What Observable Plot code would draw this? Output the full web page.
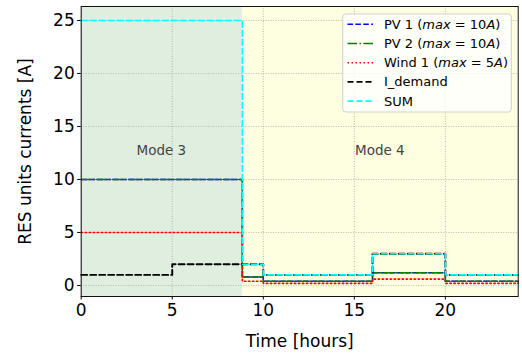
<!DOCTYPE html>
<html>
<head>
<meta charset="utf-8">
<script src="https://cdn.jsdelivr.net/npm/d3@7"></script>
<script src="https://cdn.jsdelivr.net/npm/@observablehq/plot@0.6"></script>
<style>
  html, body { margin: 0; padding: 0; background: #fff; }
  #chart { width: 522px; height: 354px; }
</style>
</head>
<body>
<div id="chart"></div>
<script>
// ---- data ----
const times   = [0, 5, 8.85, 10, 16, 20, 24];
const pv1     = [10, 10, 0.8, 0.4, 1.2, 0.4, 0.4];
const pv2     = [10, 10, 0.8, 0.4, 1.2, 0.4, 0.4];
const wind1   = [5, 5, 0.4, 0.2, 0.6, 0.2, 0.2];
const demand  = [1, 2, 2, 1, 3, 1, 1];
const sumI    = [25, 25, 2, 1, 3, 1, 1];

const modeNames  = ["Mode 3", "Mode 4"];
const modeStart  = [0, 8.85];
const modeEnd    = [8.85, 24];
const modeColors = ["#e0eee0", "#fefee0"];
const modeLabelX = [4.4, 16.4];
const modeLabelY = [12.7, 12.7];

const xTicks = [0, 5, 10, 15, 20];
const yTicks = [0, 5, 10, 15, 20, 25];

const seriesNames = ["PV 1", "PV 2", "Wind 1", "I_demand", "SUM"];
const seriesMax   = ["10", "10", "5", null, null];
const seriesVals  = [pv1, pv2, wind1, demand, sumI];
const seriesColor = ["#0000ff", "#008000", "#ff0000", "#000000", "#00ffff"];
const seriesDash  = ["5.5,2.4", "9.6,2.4,1.5,2.4", "1.5,2.5", "6,3", "6,3"];
const seriesWidth = [1.6, 1.6, 1.6, 1.9, 1.6];

// ---- build tables ----
const modes = modeNames.map((m, i) => ({mode: m, x1: modeStart[i], x2: modeEnd[i], fill: modeColors[i], lx: modeLabelX[i], ly: modeLabelY[i]}));

const lineMarks = seriesNames.map((name, s) => {
  const rows = times.map((t, i) => ({t, v: seriesVals[s][i]}));
  return Plot.line(rows, {x: "t", y: "v", curve: "step-after",
    stroke: seriesColor[s], strokeWidth: seriesWidth[s], strokeDasharray: seriesDash[s]});
});

const plot = Plot.plot({
  width: 522,
  height: 354,
  marginLeft: 80.7,
  marginRight: 4.3,
  marginTop: 6,
  marginBottom: 58,
  style: {fontFamily: "DejaVu Sans", fontSize: "17px", background: "#fff", color: "#000"},
  x: {domain: [0, 24]},
  y: {domain: [-1.04, 26.32]},
  marks: [
    Plot.rect(modes, {x1: "x1", x2: "x2", fill: "fill"}),
    Plot.gridX(xTicks, {stroke: "#aaa", strokeOpacity: 1, strokeDasharray: "1,1.5", strokeWidth: 0.8}),
    Plot.gridY(yTicks, {stroke: "#aaa", strokeOpacity: 1, strokeDasharray: "1,1.5", strokeWidth: 0.8}),
    Plot.text(modes, {x: "lx", y: "ly", text: "mode", fill: "#444", fontSize: 13.5}),
    ...lineMarks,
    Plot.axisX({ticks: xTicks, tickSize: 3.5, tickPadding: 3.5, label: null, fontSize: 17}),
    Plot.axisY({ticks: yTicks, tickSize: 3.5, tickPadding: 3, label: null, fontSize: 17}),
    Plot.text(["Time [hours]"], {frameAnchor: "bottom", dy: 50, fontSize: 17, textAnchor: "middle"}),
    Plot.text(["RES units currents [A]"], {frameAnchor: "left", dx: -56, rotate: -90, fontSize: 17, textAnchor: "middle"}),
    Plot.frame({stroke: "#111", strokeWidth: 1})
  ]
});

document.getElementById("chart").appendChild(plot);

// ---- legend ----
const svg = d3.select(plot);
const lg = svg.append("g").attr("font-family", "DejaVu Sans").attr("font-size", 13).attr("text-anchor", "start");
lg.append("rect").attr("x", 342.7).attr("y", 14).attr("width", 168.6).attr("height", 98)
  .attr("rx", 3).attr("fill", "#fff").attr("fill-opacity", 0.8).attr("stroke", "#d0d0d0");
seriesNames.forEach((name, i) => {
  const cy = 24.3 + 19.2 * i;
  lg.append("line").attr("x1", 347.5).attr("x2", 373).attr("y1", cy).attr("y2", cy)
    .attr("stroke", seriesColor[i]).attr("stroke-width", seriesWidth[i]).attr("stroke-dasharray", seriesDash[i]);
  const t = lg.append("text").attr("x", 384).attr("y", cy).attr("dy", "0.35em").attr("fill", "#000").attr("text-anchor", "start");
  if (seriesMax[i]) {
    t.append("tspan").text(name + " (");
    t.append("tspan").attr("font-style", "italic").text("max");
    t.append("tspan").text(" = " + seriesMax[i]);
    t.append("tspan").attr("font-style", "italic").text("A");
    t.append("tspan").text(")");
  } else {
    t.text(name);
  }
});
</script>
</body>
</html>
